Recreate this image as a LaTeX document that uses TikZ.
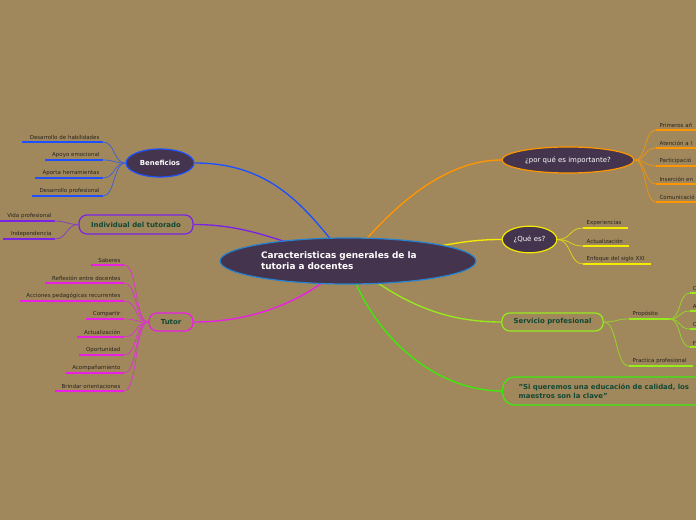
\documentclass[tikz,border=0pt]{standalone}
\usepackage{fontspec}
\setmainfont{DejaVu Sans}
\usetikzlibrary{shapes.geometric,backgrounds}
\definecolor{bgtan}{RGB}{160,136,92}
\definecolor{nodefill}{RGB}{69,52,77}
\definecolor{txtgreen}{RGB}{18,72,52}
\definecolor{leaftxt}{RGB}{40,34,28}
\definecolor{cmain}{RGB}{40,130,205}
\definecolor{cblue}{RGB}{30,80,255}
\definecolor{cpurple}{RGB}{122,34,230}
\definecolor{cmagenta}{RGB}{235,30,230}
\definecolor{corange}{RGB}{255,150,0}
\definecolor{cyellow}{RGB}{245,235,0}
\definecolor{cyg}{RGB}{150,235,30}
\definecolor{cgreen}{RGB}{60,235,10}
\tikzset{
  topic/.style={draw, ellipse, fill=nodefill, text=white, inner sep=0pt, line width=0.9pt},
  branch/.style={draw, rectangle, rounded corners=6pt, text=txtgreen, font=\fontsize{5.2}{6}\selectfont\bfseries, line width=0.9pt, minimum height=14pt, inner sep=0pt},
  leaf/.style={font=\fontsize{4.1}{4.8}\selectfont, text=leaftxt, inner xsep=2.5pt, inner ysep=1.3pt},
  uline/.style={line width=1.4pt},
  twig/.style={line width=0.6pt},
  limb/.style={line width=1pt}
}
\begin{document}
\begin{tikzpicture}[x=0.75pt,y=-0.75pt]
\useasboundingbox (0,0) rectangle (696,520);

% central topic and main branches
\node[topic, draw=cmain, minimum width=192pt, minimum height=34.5pt, text width=130.5pt, align=left,
  font=\fontsize{6.7}{8.3}\selectfont\bfseries] (main) at (348,261) {Caracteristicas generales de la\\tutoria a docentes};
\node[topic, draw=cblue, minimum width=51pt, minimum height=21pt, font=\fontsize{5.2}{6}\selectfont\bfseries] (ben) at (160,163) {Beneficios};
\node[branch, draw=cpurple, minimum width=85.5pt, minimum height=14.25pt] (indiv) at (136,224.5) {Individual del tutorado};
\node[branch, draw=cmagenta, minimum width=33pt, minimum height=13.5pt] (tutor) at (171,322) {Tutor};
\node[topic, draw=corange, minimum width=99pt, minimum height=19.5pt, font=\fontsize{5.25}{6}\selectfont] (porque) at (568,160) {¿por qué es importante?};
\node[topic, draw=cyellow, minimum width=41pt, minimum height=20pt, font=\fontsize{5.25}{6}\selectfont] (quees) at (529.5,239.5) {¿Qué es?};
\node[branch, draw=cyg, minimum width=76pt, minimum height=13.5pt] (serv) at (552.5,322) {Servicio profesional};
\node[branch, draw=cgreen, anchor=west, rounded corners=9pt, minimum height=21pt, text width=150pt, align=left,
  inner xsep=12pt, font=\fontsize{5.2}{6.75}\selectfont\bfseries] (quote) at (502,391) {"Si queremos una educación de calidad, los\\maestros son la clave"};

% left leaves
\foreach \y/\xs/\t [count=\i] in {142/23/Desarrollo de habilidades, 160/46/Apoyo emocional, 178/36/Aporta herramientas, 196/33/Desarrollo profesional}{
  \pgfmathsetmacro\tw{(103-\xs)*0.75-5}
  \node[leaf, anchor=south east, text width=\tw pt, align=right] (ben\i) at (103,\y) {\t};
  \draw[uline, cblue] (ben\i.south west) -- (ben\i.south east);
  \draw[twig, cblue!70!bgtan] (ben.west) .. controls +(-12,0) and +(12,0) .. (ben\i.south east);
}
\foreach \y/\xs/\t [count=\i] in {221/0/Vida profesional, 239/4/Independencia}{
  \pgfmathsetmacro\tw{(55-\xs)*0.75-5}
  \node[leaf, anchor=south east, text width=\tw pt, align=right] (ind\i) at (55,\y) {\t};
  \draw[uline, cpurple] (ind\i.south west) -- (ind\i.south east);
  \draw[twig, cpurple!70!bgtan] (indiv.west) .. controls +(-12,0) and +(12,0) .. (ind\i.south east);
}
\foreach \y/\xs/\t [count=\i] in {265/92/Saberes, 283/46/Reflexión entre docentes, 301/21/Acciones pedagógicas recurrentes, 319/87/Compartir,
  337/78/Actualización, 355/80/Oportunidad, 373/67/Acompañamiento, 391/56/Brindar orientaciones}{
  \pgfmathsetmacro\tw{(124-\xs)*0.75-5}
  \node[leaf, anchor=south east, text width=\tw pt, align=right] (tut\i) at (124,\y) {\t};
  \draw[uline, cmagenta] (tut\i.south west) -- (tut\i.south east);
  \draw[twig, cmagenta!75!bgtan] (tutor.west) .. controls +(-14,0) and +(14,0) .. (tut\i.south east);
}

% right leaves
\foreach \y/\t [count=\i] in {130/Primeros añ, 148/Atención a l, 166/Participació, 184/Inserción en, 202/Comunicació}{
  \node[leaf, anchor=south west, text width=30pt, align=left] (por\i) at (656,\y) {\t};
  \draw[uline, corange] (por\i.south west) -- (por\i.south east);
  \draw[twig, corange!75!bgtan] (porque.east) .. controls +(12,0) and +(-12,0) .. (por\i.south west);
}
\foreach \y/\xe/\t [count=\i] in {228/627/Experiencias, 246/628/Actualización, 264/650/Enfoque del siglo XXI}{
  \pgfmathsetmacro\tw{(\xe-583)*0.75-5}
  \node[leaf, anchor=south west, text width=\tw pt, align=left] (que\i) at (583,\y) {\t};
  \draw[uline, cyellow] (que\i.south west) -- (que\i.south east);
  \draw[twig, cyellow!75!bgtan] (quees.east) .. controls +(14,0) and +(-14,0) .. (que\i.south west);
}
\foreach \y/\xe/\t [count=\i] in {319/669/Propósito, 366/692/Practica profesional}{
  \pgfmathsetmacro\tw{(\xe-629)*0.75-5}
  \node[leaf, anchor=south west, text width=\tw pt, align=left] (serv\i) at (629,\y) {\t};
  \draw[uline, cyg] (serv\i.south west) -- (serv\i.south east);
  \draw[twig, cyg!75!bgtan] (serv.east) .. controls +(14,0) and +(-14,0) .. (serv\i.south west);
}
\foreach \y/\t [count=\i] in {293/C, 311/A, 329/C, 347/F}{
  \node[leaf, anchor=south west, text width=10pt, align=left, inner xsep=2pt] (prop\i) at (690,\y) {\t};
  \draw[uline, cyg] (prop\i.south west) -- (prop\i.south east);
  \draw[twig, cyg!75!bgtan] (serv1.south east) .. controls +(12,0) and +(-12,0) .. (prop\i.south west);
}

\begin{pgfonlayer}{background}
\fill[bgtan] (0,0) rectangle (696,520);
\draw[limb, cblue] (ben.east) .. controls +(80,0) and +(-40,-50) .. (main.center);
\draw[limb, cpurple] (indiv.east) .. controls +(60,0) and +(-60,-15) .. (main.center);
\draw[limb, cmagenta] (tutor.east) .. controls +(60,0) and +(-40,40) .. (main.center);
\draw[limb, corange] (main.center) .. controls +(40,-50) and +(-60,0) .. (porque.west);
\draw[limb, cyellow] (main.center) .. controls +(100,-15) and +(-40,0) .. (quees.west);
\draw[limb, cyg] (main.center) .. controls +(50,40) and +(-60,0) .. (serv.west);
\draw[limb, cgreen] (main.center) .. controls +(20,70) and +(-70,0) .. (quote.west);
\end{pgfonlayer}
\end{tikzpicture}
\end{document}
